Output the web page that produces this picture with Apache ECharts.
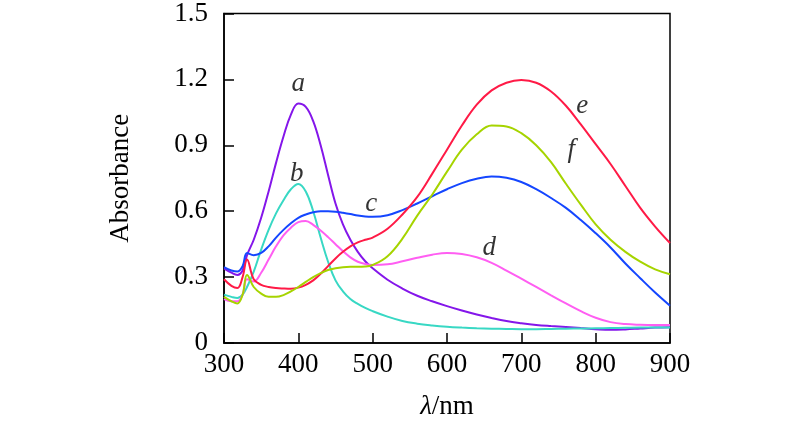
<!DOCTYPE html>
<html>
<head>
<meta charset="utf-8">
<script src="https://cdn.jsdelivr.net/npm/echarts@6/dist/echarts.min.js"></script>
<style>
  html, body { margin: 0; padding: 0; background: #fff; }
  #chart { width: 800px; height: 442px; }
</style>
</head>
<body>
<div id="chart"></div>
<script>
// wavelength grid (nm)
var wavelengths = [300, 310, 318, 325, 331, 340, 350, 360, 370, 380, 390, 400, 410, 420, 430, 440, 450, 460, 470, 480, 490, 500,
    520, 540, 560, 580, 600, 620, 640, 660, 680, 700, 720, 740, 760, 780, 800, 820, 840, 860, 880, 900];

// absorbance of each curve
var curveA = [0.34, 0.32, 0.31, 0.33, 0.40, 0.47, 0.57, 0.69, 0.82, 0.94, 1.04, 1.09, 1.075, 1.01, 0.90, 0.765, 0.635, 0.54, 0.47, 0.415, 0.372, 0.34,
    0.288, 0.248, 0.215, 0.19, 0.168, 0.148, 0.13, 0.114, 0.10, 0.09, 0.082, 0.077, 0.073, 0.068, 0.063, 0.06, 0.062, 0.066, 0.07, 0.072];
var curveB = [0.22, 0.21, 0.205, 0.22, 0.255, 0.325, 0.425, 0.515, 0.59, 0.65, 0.70, 0.724, 0.69, 0.60, 0.48, 0.37, 0.285, 0.235, 0.20, 0.178, 0.16, 0.145,
    0.12, 0.10, 0.088, 0.08, 0.074, 0.07, 0.067, 0.065, 0.064, 0.063, 0.063, 0.064, 0.065, 0.066, 0.067, 0.068, 0.069, 0.07, 0.07, 0.07];
var curveC = [0.345, 0.33, 0.325, 0.35, 0.41, 0.40, 0.41, 0.44, 0.48, 0.515, 0.545, 0.57, 0.585, 0.595, 0.60, 0.60, 0.598, 0.593, 0.587, 0.58, 0.576, 0.575,
    0.582, 0.605, 0.635, 0.668, 0.70, 0.728, 0.748, 0.758, 0.752, 0.733, 0.70, 0.66, 0.615, 0.56, 0.50, 0.435, 0.362, 0.295, 0.23, 0.17];
var curveD = [0.20, 0.19, 0.19, 0.22, 0.29, 0.28, 0.32, 0.38, 0.44, 0.49, 0.525, 0.55, 0.555, 0.538, 0.512, 0.482, 0.45, 0.418, 0.39, 0.37, 0.36, 0.355,
    0.358, 0.372, 0.388, 0.402, 0.41, 0.405, 0.39, 0.365, 0.33, 0.293, 0.255, 0.217, 0.18, 0.145, 0.115, 0.095, 0.086, 0.083, 0.082, 0.082];
var curveE = [0.29, 0.26, 0.25, 0.30, 0.38, 0.29, 0.265, 0.255, 0.25, 0.248, 0.247, 0.252, 0.265, 0.285, 0.315, 0.35, 0.385, 0.415, 0.44, 0.458, 0.47, 0.48,
    0.52, 0.585, 0.665, 0.77, 0.88, 0.99, 1.085, 1.15, 1.185, 1.197, 1.185, 1.145, 1.08, 0.995, 0.905, 0.815, 0.715, 0.615, 0.53, 0.455];
var curveF = [0.21, 0.19, 0.18, 0.22, 0.31, 0.255, 0.225, 0.21, 0.21, 0.218, 0.235, 0.255, 0.278, 0.30, 0.318, 0.332, 0.34, 0.345, 0.347, 0.347, 0.348, 0.355,
    0.395, 0.475, 0.58, 0.675, 0.78, 0.88, 0.95, 0.99, 0.986, 0.955, 0.9, 0.823, 0.725, 0.63, 0.54, 0.47, 0.415, 0.37, 0.335, 0.313];

var curveNames = ['a', 'b', 'c', 'd', 'e', 'f'];
var curveValues = [curveA, curveB, curveC, curveD, curveE, curveF];
var curveColors = ['#8416ea', '#38d8c4', '#1446ff', '#ff5ef2', '#ff1a46', '#a6d400'];

// where the letters sit, in data units [nm, absorbance]
var letterX = [400, 398, 498, 657, 782, 767];
var letterY = [1.18, 0.77, 0.634, 0.432, 1.078, 0.88];

var xTicks = [300, 400, 500, 600, 700, 800, 900];

var serif = '"Liberation Serif", "Times New Roman", serif';

function pairs(xs, ys) {
    return xs.map(function (x, i) { return [x, ys[i]]; });
}

var series = curveValues.map(function (vals, i) {
    return {
        name: curveNames[i],
        type: 'line',
        data: pairs(wavelengths, vals),
        smooth: 0.4,
        showSymbol: false,
        lineStyle: { color: curveColors[i], width: 2 },
        itemStyle: { color: curveColors[i] },
        z: 3
    };
});

series.push({
    name: 'letters',
    type: 'scatter',
    symbolSize: 0,
    data: curveNames.map(function (n, i) { return { name: n, value: [letterX[i], letterY[i]] }; }),
    label: {
        show: true,
        position: 'inside',
        formatter: '{b}',
        fontFamily: serif,
        fontStyle: 'italic',
        fontSize: 27,
        color: '#000'
    },
    z: 5
});

var myChart = echarts.init(document.getElementById('chart'));

var option = {
    backgroundColor: '#fff',
    animation: false,
    grid: {
        left: 224,
        right: 130,
        top: 10,
        bottom: 99,
        show: true,
        borderColor: '#000',
        borderWidth: 1.5,
        backgroundColor: 'transparent'
    },
    xAxis: {
        type: 'value',
        min: 300,
        max: 900,
        interval: 100,
        name: '{i|λ}/nm',
        nameLocation: 'middle',
        nameGap: 50,
        nameTextStyle: {
            fontFamily: serif,
            fontSize: 27,
            color: '#000',
            rich: {
                i: { fontFamily: serif, fontSize: 27, fontStyle: 'italic', color: '#000' }
            }
        },
        axisLine: { lineStyle: { color: '#000', width: 1.5 } },
        axisTick: { inside: true, length: 10, lineStyle: { color: '#000', width: 1.5 } },
        axisLabel: {
            margin: 8,
            fontFamily: serif,
            fontSize: 27,
            color: '#000',
            customValues: xTicks
        },
        splitLine: { show: false }
    },
    yAxis: {
        type: 'value',
        min: 0,
        max: 1.5,
        interval: 0.3,
        name: 'Absorbance',
        nameLocation: 'middle',
        nameGap: 90,
        nameTextStyle: { fontFamily: serif, fontSize: 27, color: '#000' },
        axisLine: { lineStyle: { color: '#000', width: 1.5 } },
        axisTick: { inside: true, length: 10, lineStyle: { color: '#000', width: 1.5 } },
        axisLabel: {
            margin: 16,
            fontFamily: serif,
            fontSize: 27,
            color: '#000',
            formatter: function (v) { return v === 0 ? '0' : v.toFixed(1); }
        },
        splitLine: { show: false }
    },
    series: series
};

myChart.setOption(option);
</script>
</body>
</html>
